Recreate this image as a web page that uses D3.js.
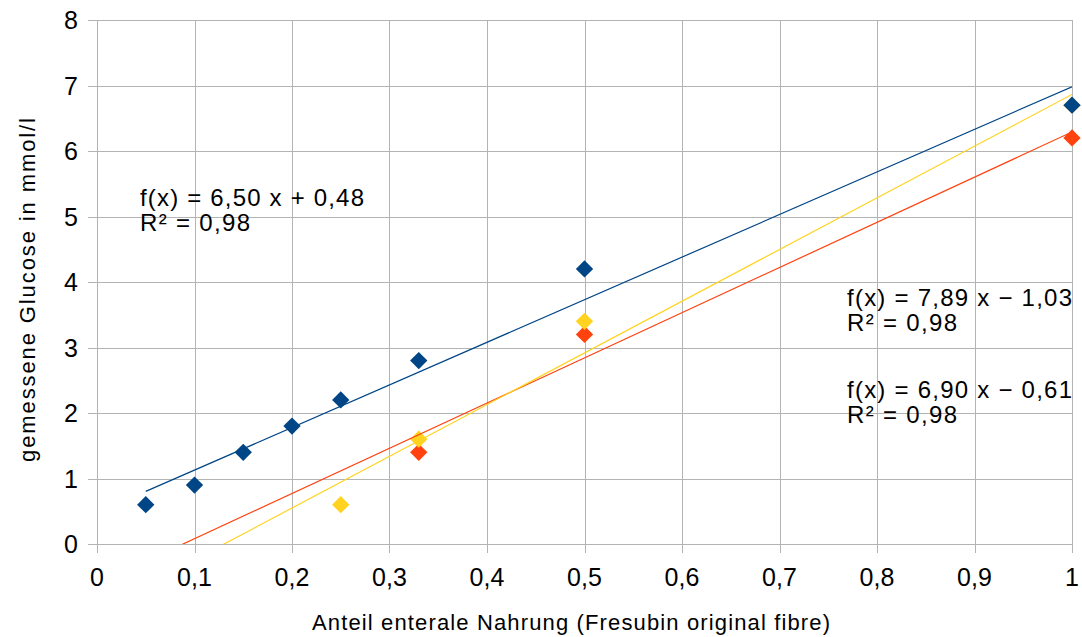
<!DOCTYPE html>
<html>
<head>
<meta charset="utf-8">
<script src="https://cdn.jsdelivr.net/npm/d3@7"></script>
<style>
  html, body { margin: 0; padding: 0; background: #fff; }
  svg { display: block; font-family: "Liberation Sans", Arial, sans-serif; }
</style>
</head>
<body>
<svg id="chart" width="1082" height="637"></svg>
<script>
// Measured glucose against share of enteral nutrition, three series
const blueX = [0.05, 0.1, 0.15, 0.2, 0.25, 0.33, 0.5, 1];
const blueY = [0.6, 0.9, 1.4, 1.8, 2.2, 2.8, 4.2, 6.7];
const yellowX = [0.25, 0.33, 0.5, 1];
const yellowY = [0.6, 1.6, 3.4, 6.7];
const redX = [0.33, 0.5, 1];
const redY = [1.4, 3.2, 6.2];

const xTicks = [0, 0.1, 0.2, 0.3, 0.4, 0.5, 0.6, 0.7, 0.8, 0.9, 1];
const yTicks = [0, 1, 2, 3, 4, 5, 6, 7, 8];

const colors = { blue: "#004586", red: "#ff420e", yellow: "#ffd320" };

const svg = d3.select("#chart");
const margin = { left: 97, right: 10, top: 20, bottom: 93 };
const W = 1082, H = 637;

const x = d3.scaleLinear().domain([0, 1]).range([margin.left, W - margin.right]);
const y = d3.scaleLinear().domain([0, 8]).range([H - margin.bottom, margin.top]);

const fmt = d => String(d).replace(".", ",");

// grid
const grid = svg.append("g").attr("stroke", "#b3b3b3").attr("stroke-width", 1);
grid.selectAll("line.h").data(yTicks).join("line")
  .attr("x1", x(0) - 9).attr("x2", x(1))
  .attr("y1", d => Math.round(y(d)) + 0.5).attr("y2", d => Math.round(y(d)) + 0.5);
grid.selectAll("line.v").data(xTicks).join("line")
  .attr("x1", d => Math.round(x(d)) + 0.5).attr("x2", d => Math.round(x(d)) + 0.5)
  .attr("y1", y(8)).attr("y2", y(0) + 9);

// tick labels
svg.append("g").selectAll("text").data(yTicks).join("text")
  .attr("x", x(0) - 19).attr("y", d => y(d) + 9)
  .attr("text-anchor", "end").attr("font-size", 25).attr("fill", "#000")
  .text(fmt);
svg.append("g").selectAll("text").data(xTicks).join("text")
  .attr("x", d => x(d)).attr("y", y(0) + 42)
  .attr("text-anchor", "middle").attr("font-size", 25).attr("fill", "#000")
  .text(fmt);

// axis titles
svg.append("text")
  .attr("x", 571).attr("y", 630)
  .attr("text-anchor", "middle").attr("font-size", 22)
  .attr("textLength", 518).attr("lengthAdjust", "spacing")
  .text("Anteil enterale Nahrung (Fresubin original fibre)");
svg.append("text")
  .attr("transform", `translate(35,290) rotate(-90)`)
  .attr("text-anchor", "middle").attr("font-size", 22)
  .attr("textLength", 344).attr("lengthAdjust", "spacing")
  .text("gemessene Glucose in mmol/l");

// least-squares fit
function fit(xs, ys) {
  const mx = d3.mean(xs), my = d3.mean(ys);
  let sxy = 0, sxx = 0;
  xs.forEach((v, i) => { sxy += (v - mx) * (ys[i] - my); sxx += (v - mx) ** 2; });
  const m = sxy / sxx;
  return { m, b: my - m * mx };
}

const diamond = d3.symbol().type(d3.symbolSquare).size(150);

const series = [
  { xs: redX, ys: redY, c: colors.red },
  { xs: yellowX, ys: yellowY, c: colors.yellow },
  { xs: blueX, ys: blueY, c: colors.blue }
];

series.forEach(s => {
  svg.append("g").selectAll("path").data(s.xs.map((v, i) => [v, s.ys[i]])).join("path")
    .attr("d", diamond)
    .attr("transform", d => `translate(${x(d[0])},${y(d[1])}) rotate(45)`)
    .attr("fill", s.c);
});

// trend lines span the shared x range, clipped to the plot
svg.append("clipPath").attr("id", "plot").append("rect")
  .attr("x", x(0)).attr("y", y(8)).attr("width", x(1) - x(0)).attr("height", y(0) - y(8));
const xMin = d3.min(blueX), xMax = 1;
series.forEach(s => {
  const f = fit(s.xs, s.ys);
  svg.append("line").attr("clip-path", "url(#plot)")
    .attr("x1", x(xMin)).attr("y1", y(f.m * xMin + f.b))
    .attr("x2", x(xMax)).attr("y2", y(f.m * xMax + f.b))
    .attr("stroke", s.c).attr("stroke-width", 1.2);
});

// equations
const eqs = [
  { x: 140, y: 206, w: 224, t1: "f(x) = 6,50 x + 0,48" },
  { x: 847, y: 306, w: 225, t1: "f(x) = 7,89 x \u2212 1,03" },
  { x: 847, y: 398, w: 225, t1: "f(x) = 6,90 x \u2212 0,61" }
];
eqs.forEach(e => {
  svg.append("text").attr("x", e.x).attr("y", e.y).attr("font-size", 24)
    .attr("textLength", e.w).attr("lengthAdjust", "spacing").text(e.t1);
  svg.append("text").attr("x", e.x).attr("y", e.y + 25).attr("font-size", 24)
    .attr("textLength", 110).attr("lengthAdjust", "spacing").text("R\u00b2 = 0,98");
});
</script>
</body>
</html>
